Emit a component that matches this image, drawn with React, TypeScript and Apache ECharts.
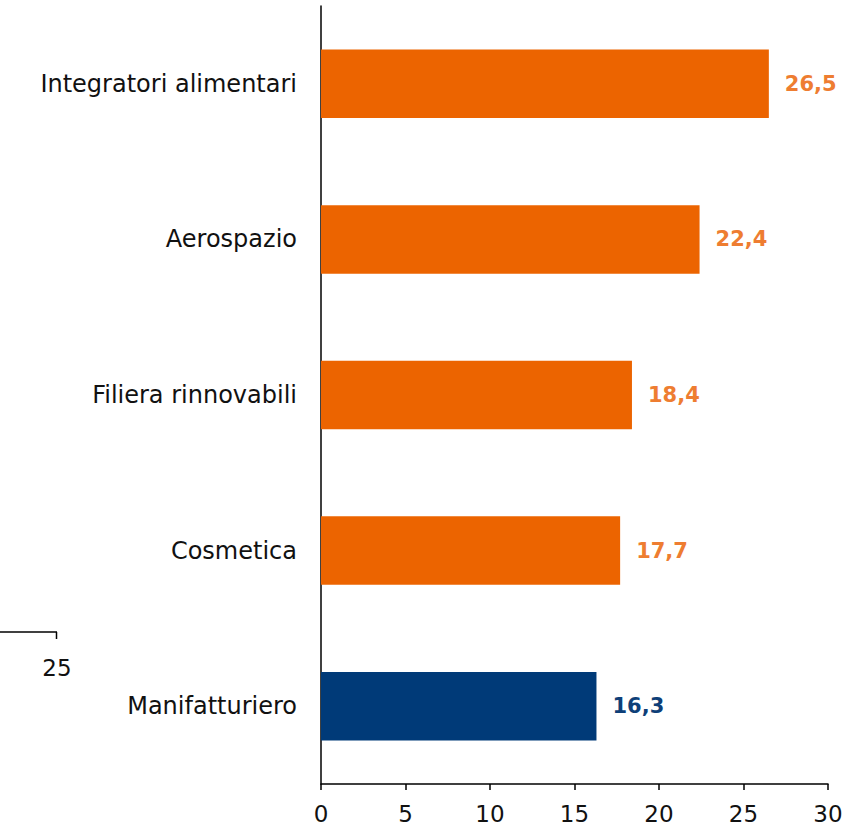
import React, { useEffect, useRef } from "react";
import * as echarts from "echarts";

const categories = ["Manifatturiero", "Cosmetica", "Filiera rinnovabili", "Aerospazio", "Integratori alimentari"];
const values = [16.3, 17.7, 18.4, 22.4, 26.5];
const barColors = ["#003A78", "#EC6400", "#EC6400", "#EC6400", "#EC6400"];
const labelColors = ["#0E3F78", "#EE7D31", "#EE7D31", "#EE7D31", "#EE7D31"];
const xTicks = [0, 5, 10, 15, 20, 25, 30];

const FONT = "DejaVu Sans";

export default function App() {
  const ref = useRef<HTMLDivElement>(null);
  useEffect(() => {
    const chart = echarts.init(ref.current!, null, { renderer: "svg" });
    chart.setOption({
      animation: false,
      backgroundColor: "#ffffff",
      grid: { left: 321, right: 23, top: 6, bottom: 45, containLabel: false },
      xAxis: {
        type: "value",
        min: xTicks[0],
        max: xTicks[xTicks.length - 1],
        interval: 5,
        splitLine: { show: false },
        axisLine: { show: true, lineStyle: { color: "#000", width: 1.5 } },
        axisTick: { show: true, length: 6, lineStyle: { color: "#000", width: 1.5 } },
        axisLabel: { color: "#111", fontSize: 23, fontFamily: FONT, margin: 18 },
      },
      yAxis: {
        type: "category",
        data: categories,
        axisLine: { show: true, lineStyle: { color: "#000", width: 1.5 } },
        axisTick: { show: false },
        axisLabel: { color: "#111", fontSize: 24, fontFamily: FONT, margin: 24 },
      },
      series: [
        {
          type: "bar",
          data: values.map((v, i) => ({
            value: v,
            itemStyle: { color: barColors[i] },
            label: { color: labelColors[i] },
          })),
          barCategoryGap: "56%",
          label: {
            show: true,
            position: "right",
            distance: 16,
            fontSize: 21,
            fontWeight: "bold",
            fontFamily: FONT,
            formatter: (p: any) => String(p.value).replace(".", ","),
          },
        },
      ],
      graphic: [
        { type: "line", shape: { x1: 0, y1: 632, x2: 57, y2: 632 }, style: { stroke: "#000", lineWidth: 1.5 } },
        { type: "line", shape: { x1: 56.5, y1: 632, x2: 56.5, y2: 639 }, style: { stroke: "#000", lineWidth: 1.5 } },
        { type: "text", x: 57, y: 668, style: { text: "25", fontSize: 23, fontFamily: FONT, fill: "#111", align: "center", verticalAlign: "middle" } },
      ],
    });
    return () => chart.dispose();
  }, []);
  return <div ref={ref} style={{ position: "fixed", left: 0, top: 0, width: 851, height: 829 }} />;
}
